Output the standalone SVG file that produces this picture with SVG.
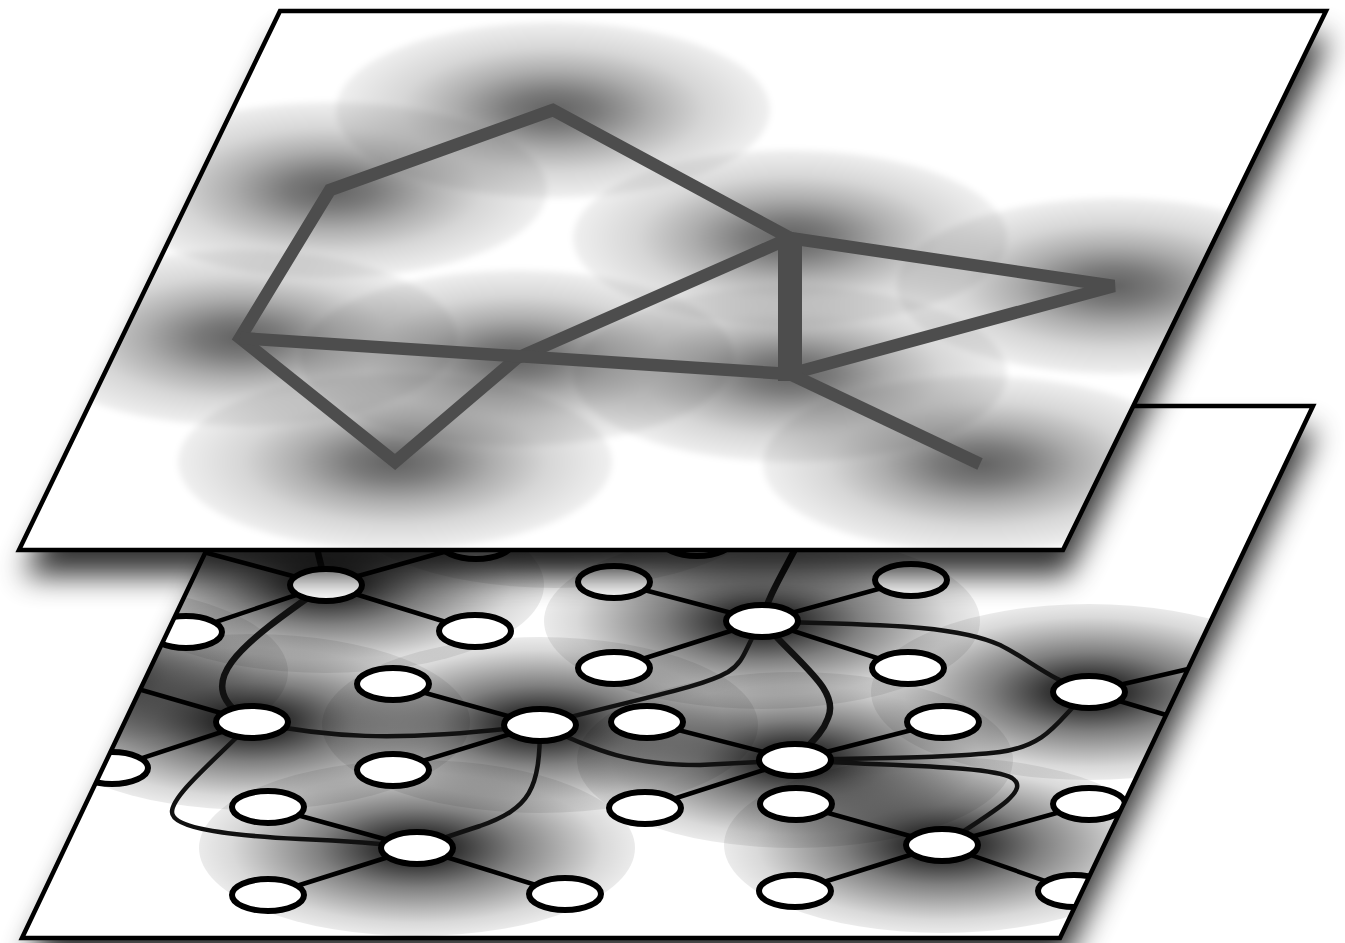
<svg xmlns="http://www.w3.org/2000/svg" width="1345" height="943" viewBox="0 0 1345 943">
<style>
.plane{fill:#fff;stroke:none}
.outline{fill:none;stroke:#000;stroke-width:4.5;stroke-linejoin:miter}
.shadow{fill:#000;opacity:0.8}
.e{fill:none;stroke:#000;stroke-width:4.5}
.c{fill:none;stroke:#111;stroke-width:4.5;stroke-linecap:round}
.ct{fill:none;stroke:#111;stroke-width:6.5;stroke-linecap:round}
.n{fill:#fff;stroke:#000;stroke-width:6}
.tg{fill:none;stroke:#4d4d4d;stroke-width:12.5;stroke-linejoin:miter}
.tgw{fill:none;stroke:#4d4d4d;stroke-width:24}
.lo{fill:url(#gLow)}
.up{fill:url(#gUp)}
</style>
<defs>
<filter id="blur" x="-20%" y="-20%" width="140%" height="140%">
<feGaussianBlur stdDeviation="15"/>
</filter>
<filter id="soft" x="-5%" y="-5%" width="110%" height="110%">
<feGaussianBlur stdDeviation="3"/>
</filter>
<radialGradient id="gLow">
<stop offset="0" stop-color="#000" stop-opacity="0.95"/>
<stop offset="0.2" stop-color="#000" stop-opacity="0.78"/>
<stop offset="0.45" stop-color="#000" stop-opacity="0.5"/>
<stop offset="0.7" stop-color="#000" stop-opacity="0.28"/>
<stop offset="0.85" stop-color="#000" stop-opacity="0.15"/>
<stop offset="1" stop-color="#000" stop-opacity="0.08"/>
</radialGradient>
<radialGradient id="gUp">
<stop offset="0" stop-color="#000" stop-opacity="0.62"/>
<stop offset="0.2" stop-color="#000" stop-opacity="0.52"/>
<stop offset="0.45" stop-color="#000" stop-opacity="0.32"/>
<stop offset="0.7" stop-color="#000" stop-opacity="0.16"/>
<stop offset="1" stop-color="#000" stop-opacity="0.06"/>
</radialGradient>
<clipPath id="clipLow"><polygon points="275,406 1313,406 1060,938 22,938"/></clipPath>
<clipPath id="clipUp"><polygon points="280,11 1326,11 1063,550 19,550"/></clipPath>
</defs>

<g id="lower-plane">
<polygon class="shadow" filter="url(#blur)" transform="translate(4,24)" points="275,406 1313,406 1060,938 22,938"/>
<polygon class="plane" points="275,406 1313,406 1060,938 22,938"/>
<g clip-path="url(#clipLow)">
<g id="lower-shading">
<ellipse class="lo" cx="555" cy="500" rx="218" ry="88"/>
<ellipse class="lo" cx="70" cy="672" rx="218" ry="88"/>
<ellipse class="lo" cx="326" cy="585" rx="218" ry="88"/>
<ellipse class="lo" cx="762" cy="621" rx="218" ry="88"/>
<ellipse class="lo" cx="252" cy="722" rx="218" ry="88"/>
<ellipse class="lo" cx="540" cy="725" rx="218" ry="88"/>
<ellipse class="lo" cx="1089" cy="692" rx="218" ry="88"/>
<ellipse class="lo" cx="795" cy="760" rx="218" ry="88"/>
<ellipse class="lo" cx="417" cy="848" rx="218" ry="88"/>
<ellipse class="lo" cx="942" cy="845" rx="218" ry="88"/>
</g>
<g id="connectors">
<line class="e" x1="326" y1="585" x2="186" y2="632"/>
<line class="e" x1="326" y1="585" x2="475" y2="631"/>
<line class="e" x1="326" y1="585" x2="476" y2="543"/>
<line class="e" x1="326" y1="585" x2="140" y2="535"/>
<line class="e" x1="252" y1="722" x2="112" y2="768"/>
<line class="e" x1="252" y1="722" x2="90" y2="675"/>
<line class="e" x1="540" y1="725" x2="393" y2="684"/>
<line class="e" x1="540" y1="725" x2="393" y2="770"/>
<line class="e" x1="417" y1="848" x2="268" y2="807"/>
<line class="e" x1="417" y1="848" x2="268" y2="895"/>
<line class="e" x1="417" y1="848" x2="565" y2="894"/>
<line class="e" x1="762" y1="621" x2="614" y2="582"/>
<line class="e" x1="762" y1="621" x2="911" y2="580"/>
<line class="e" x1="762" y1="621" x2="614" y2="668"/>
<line class="e" x1="762" y1="621" x2="908" y2="668"/>
<line class="e" x1="795" y1="760" x2="647" y2="722"/>
<line class="e" x1="795" y1="760" x2="943" y2="722"/>
<line class="e" x1="795" y1="760" x2="645" y2="808"/>
<line class="e" x1="942" y1="845" x2="796" y2="804"/>
<line class="e" x1="942" y1="845" x2="795" y2="891"/>
<line class="e" x1="942" y1="845" x2="1089" y2="804"/>
<line class="e" x1="942" y1="845" x2="1074" y2="891"/>
<line class="e" x1="1089" y1="692" x2="1240" y2="657"/>
<line class="e" x1="1089" y1="692" x2="1240" y2="737"/>
<path class="ct" d="M326,585 C240,645 185,685 252,722"/>
<path class="c" d="M252,722 C320,736 390,744 540,725"/>
<path class="c" d="M252,722 C215,760 172,795 172,812 C172,830 240,836 300,839 C350,841 385,844 417,848"/>
<path class="c" d="M540,725 C540,790 530,808 480,826 C455,834 432,842 417,848"/>
<path class="c" d="M540,725 C640,698 700,688 728,672 C746,661 745,646 762,621"/>
<path class="c" d="M540,725 C600,752 630,765 700,765 L795,760"/>
<path class="ct" d="M762,621 C800,665 840,690 828,718 C822,735 808,745 795,760"/>
<path class="c" d="M762,621 C850,625 950,622 1000,645 C1030,660 1050,680 1089,692"/>
<path class="c" d="M1089,692 C1060,715 1052,745 1000,752 C950,758 870,758 795,760"/>
<path class="c" d="M795,760 C880,766 990,765 1012,778 C1030,790 1000,808 942,845"/>
<path class="ct" d="M762,621 C768,595 785,570 805,530"/>
<path class="ct" d="M326,585 C322,570 318,555 312,525"/>
</g>
<g id="node-h1"><ellipse class="n" cx="326" cy="585" rx="36" ry="16"/></g>
<g id="node-h2"><ellipse class="n" cx="762" cy="621" rx="36" ry="16"/></g>
<g id="node-h3"><ellipse class="n" cx="252" cy="722" rx="36" ry="16"/></g>
<g id="node-h4"><ellipse class="n" cx="540" cy="725" rx="36" ry="16"/></g>
<g id="node-h5"><ellipse class="n" cx="1089" cy="692" rx="36" ry="16"/></g>
<g id="node-h6"><ellipse class="n" cx="795" cy="760" rx="36" ry="16"/></g>
<g id="node-h7"><ellipse class="n" cx="417" cy="848" rx="36" ry="16"/></g>
<g id="node-h8"><ellipse class="n" cx="942" cy="845" rx="36" ry="16"/></g>
<g id="node-l1"><ellipse class="n" cx="186" cy="632" rx="36" ry="16"/></g>
<g id="node-l2"><ellipse class="n" cx="475" cy="631" rx="36" ry="16"/></g>
<g id="node-l3"><ellipse class="n" cx="476" cy="543" rx="36" ry="16"/></g>
<g id="node-l4"><ellipse class="n" cx="697" cy="540" rx="36" ry="16"/></g>
<g id="node-l5"><ellipse class="n" cx="393" cy="684" rx="36" ry="16"/></g>
<g id="node-l6"><ellipse class="n" cx="393" cy="770" rx="36" ry="16"/></g>
<g id="node-l7"><ellipse class="n" cx="112" cy="768" rx="36" ry="16"/></g>
<g id="node-l8"><ellipse class="n" cx="268" cy="807" rx="36" ry="16"/></g>
<g id="node-l9"><ellipse class="n" cx="268" cy="895" rx="36" ry="16"/></g>
<g id="node-l10"><ellipse class="n" cx="565" cy="894" rx="36" ry="16"/></g>
<g id="node-l11"><ellipse class="n" cx="614" cy="582" rx="36" ry="16"/></g>
<g id="node-l12"><ellipse class="n" cx="911" cy="580" rx="36" ry="16"/></g>
<g id="node-l13"><ellipse class="n" cx="614" cy="668" rx="36" ry="16"/></g>
<g id="node-l14"><ellipse class="n" cx="908" cy="668" rx="36" ry="16"/></g>
<g id="node-l15"><ellipse class="n" cx="647" cy="722" rx="36" ry="16"/></g>
<g id="node-l16"><ellipse class="n" cx="943" cy="722" rx="36" ry="16"/></g>
<g id="node-l17"><ellipse class="n" cx="645" cy="808" rx="36" ry="16"/></g>
<g id="node-l18"><ellipse class="n" cx="796" cy="804" rx="36" ry="16"/></g>
<g id="node-l19"><ellipse class="n" cx="795" cy="891" rx="36" ry="16"/></g>
<g id="node-l20"><ellipse class="n" cx="1089" cy="804" rx="36" ry="16"/></g>
<g id="node-l21"><ellipse class="n" cx="1074" cy="891" rx="36" ry="16"/></g>
</g>
<polygon class="outline" points="275,406 1313,406 1060,938 22,938"/>
</g>

<g id="upper-plane">
<polygon class="shadow" filter="url(#blur)" transform="translate(4,26)" points="280,11 1326,11 1063,550 19,550"/>
<polygon class="plane" points="280,11 1326,11 1063,550 19,550"/>
<g clip-path="url(#clipUp)">
<g id="upper-shading" filter="url(#soft)">
<ellipse class="up" cx="553" cy="110" rx="217" ry="88"/>
<ellipse class="up" cx="330" cy="190" rx="217" ry="88"/>
<ellipse class="up" cx="240" cy="338" rx="217" ry="88"/>
<ellipse class="up" cx="395" cy="462" rx="217" ry="88"/>
<ellipse class="up" cx="517" cy="358" rx="217" ry="88"/>
<ellipse class="up" cx="790" cy="238" rx="217" ry="88"/>
<ellipse class="up" cx="790" cy="374" rx="217" ry="88"/>
<ellipse class="up" cx="1114" cy="286" rx="217" ry="88"/>
<ellipse class="up" cx="980" cy="464" rx="217" ry="88"/>
</g>
<g id="upper-connectors">
<polygon class="tg" points="553,110 330,190 240,338 395,462 517,358 790,238"/>
<line class="tg" x1="240" y1="338" x2="790" y2="374"/>
<polyline class="tg" points="790,238 1114,286 790,374"/>
<line class="tg" x1="790" y1="374" x2="980" y2="464"/>
<line class="tgw" x1="790" y1="234" x2="790" y2="381"/>
</g>
</g>
<polygon class="outline" points="280,11 1326,11 1063,550 19,550"/>
</g>
</svg>
